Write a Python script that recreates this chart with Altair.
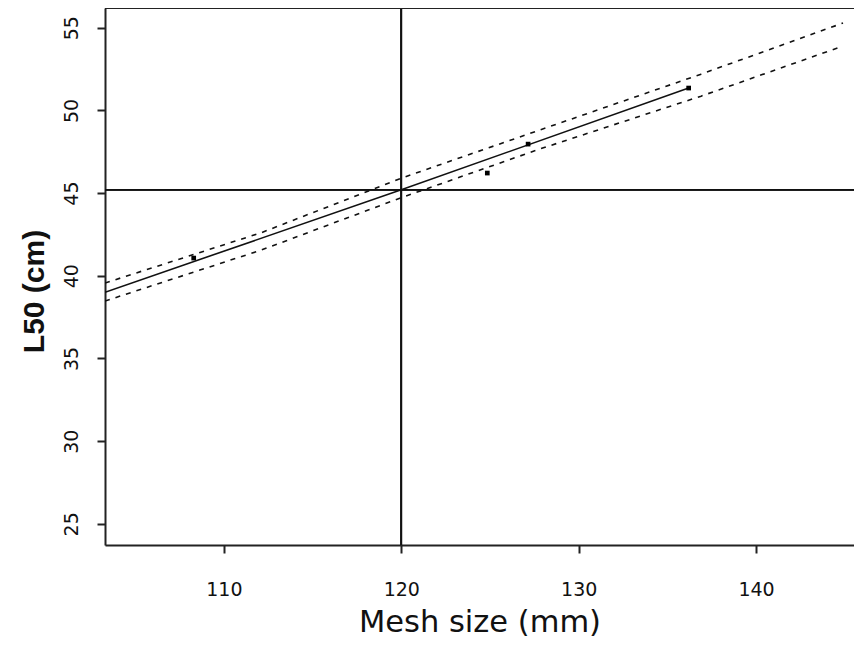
import altair as alt
import pandas as pd

# Observed points
mesh_pts = [108.3, 124.85, 127.15, 136.2]
l50_pts = [41.07, 46.21, 47.96, 51.35]

# Fitted regression line
fit_x = [103.3, 120.0, 136.2]
fit_y = [39.0, 45.2, 51.35]

# Confidence bands
band_x = [103.3, 112.1, 120.0, 127.8, 136.9, 144.9]
band_upper = [39.56, 42.6, 45.9, 48.81, 52.19, 55.28]
band_lower = [38.47, 41.55, 44.72, 47.66, 50.86, 53.89]

ref_mesh = 120
ref_l50 = 45.2

x_ticks = [110, 120, 130, 140]
y_ticks = [25, 30, 35, 40, 45, 50, 55]

x_dom = [103.3, 145.52]
y_dom = [23.72, 56.19]

xs = alt.Scale(domain=x_dom, nice=False, zero=False)
ys = alt.Scale(domain=y_dom, nice=False, zero=False)

x_axis = alt.Axis(values=x_ticks, grid=False, tickSize=8, tickWidth=2, tickColor="#222",
                  domainColor="#222", domainWidth=2, labelFont="DejaVu Sans", labelFontSize=19,
                  labelColor="#111", labelBaseline="alphabetic", labelPadding=42,
                  title="Mesh size (mm)", titleFont="DejaVu Sans", titleFontSize=30.5,
                  titleFontWeight="normal", titleColor="#111", titleBaseline="alphabetic",
                  titleAlign="center", titleY=86)
y_axis = alt.Axis(values=y_ticks, grid=False, tickSize=8, tickWidth=2, tickColor="#222",
                  domainColor="#222", domainWidth=2, labelFont="DejaVu Sans", labelFontSize=19,
                  labelColor="#111", labelAngle=-90, labelAlign="center",
                  labelBaseline="alphabetic", labelPadding=20,
                  title="L50 (cm)", titleFont="Liberation Sans",
                  titleFontSize=30, titleFontWeight="bold", titleColor="#111",
                  titleAngle=-90, titleAlign="center", titleBaseline="alphabetic",
                  titleX=-62, titleY=283)

fit_df = pd.DataFrame({"x": fit_x, "y": fit_y})
band_df = pd.DataFrame({
    "x": band_x + band_x,
    "y": band_upper + band_lower,
    "band": ["upper"] * len(band_x) + ["lower"] * len(band_x),
})
pts_df = pd.DataFrame({"x": mesh_pts, "y": l50_pts})

base_axes = alt.Chart(pts_df).mark_point(opacity=0).encode(
    x=alt.X("x:Q", scale=xs, axis=x_axis),
    y=alt.Y("y:Q", scale=ys, axis=y_axis),
)

fit_line = alt.Chart(fit_df).mark_line(color="#111", strokeWidth=1.6, clip=True).encode(
    x=alt.X("x:Q", scale=xs), y=alt.Y("y:Q", scale=ys)
)

bands = alt.Chart(band_df).mark_line(color="#111", strokeWidth=1.6, strokeDash=[5, 6], clip=True).encode(
    x=alt.X("x:Q", scale=xs), y=alt.Y("y:Q", scale=ys), detail="band:N"
)

points = alt.Chart(pts_df).mark_square(color="#000", size=22, opacity=1).encode(
    x=alt.X("x:Q", scale=xs), y=alt.Y("y:Q", scale=ys)
)

vrule = alt.Chart(pts_df).mark_rule(color="#111", strokeWidth=1.6).encode(
    x=alt.datum(ref_mesh, scale=xs)
)
hrule = alt.Chart(pts_df).mark_rule(color="#111", strokeWidth=1.6).encode(
    y=alt.datum(ref_l50, scale=ys)
)
top_border = alt.Chart(pts_df).mark_rule(color="#222", strokeWidth=2).encode(
    y=alt.datum(y_dom[1], scale=ys)
)

chart = alt.layer(base_axes, vrule, hrule, bands, fit_line, points, top_border).properties(
    width=749, height=537,
    autosize=alt.AutoSizeParams(type="none"),
    padding={"left": 97, "top": 0, "right": 0, "bottom": 95},
).configure_view(stroke=None).configure(background="white")

chart.save("out.html", embed_options={"renderer": "svg", "actions": False})
